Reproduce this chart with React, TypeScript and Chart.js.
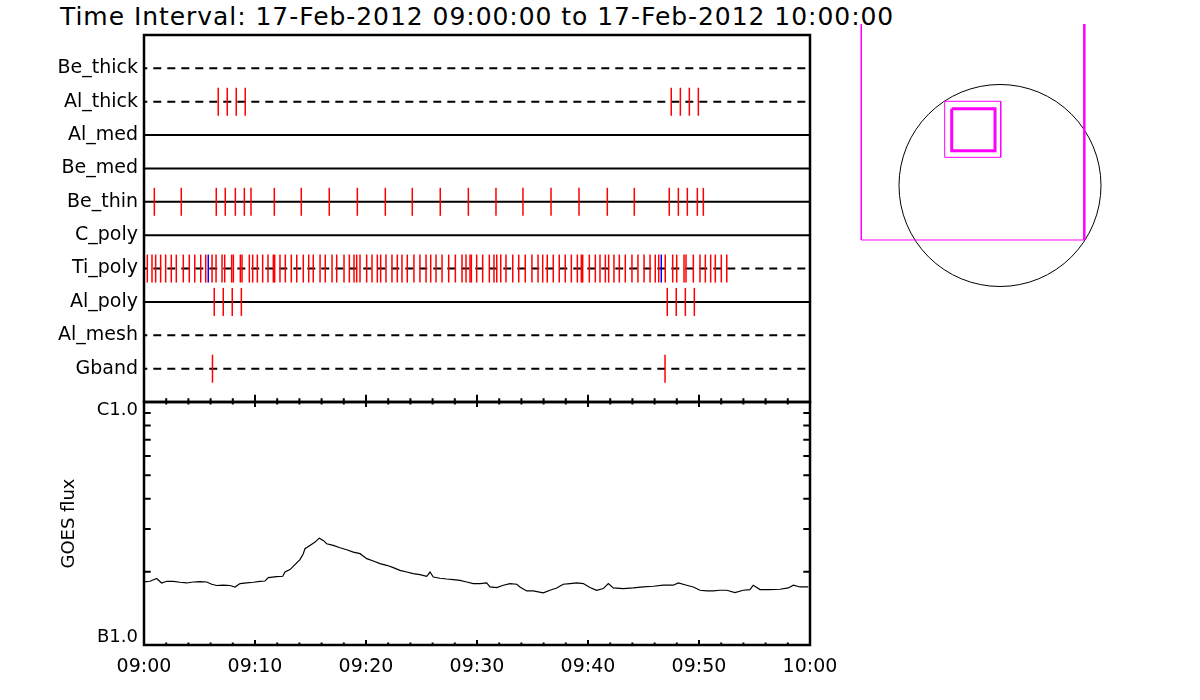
import React, { useEffect, useRef } from 'react';
import { Chart, registerables } from 'chart.js';

Chart.register(...registerables);

const FONT = "'DejaVu Sans', sans-serif";

// ---------- Data ----------
const titleText = 'Time Interval: 17-Feb-2012 09:00:00 to 17-Feb-2012 10:00:00';

const filterNames = ['Be_thick', 'Al_thick', 'Al_med', 'Be_med', 'Be_thin', 'C_poly', 'Ti_poly', 'Al_poly', 'Al_mesh', 'Gband'];
const dashedFilters = ['Be_thick', 'Al_thick', 'Ti_poly', 'Al_mesh', 'Gband'];

// exposure times in minutes after 09:00
const beThickTimes: number[] = [];
const alThickTimes = [6.69, 7.5, 8.31, 9.12, 47.5, 48.32, 49.13, 49.94];
const alMedTimes: number[] = [];
const beMedTimes: number[] = [];
const beThinTimes = [0.93, 3.36, 6.51, 7.32, 8.23, 9.04, 9.64, 11.74, 14.17, 16.69, 19.22, 21.74, 24.17, 26.69, 29.22, 31.71, 34.14, 36.67, 39.19, 41.74, 44.17, 47.32, 48.14, 48.95, 49.85, 50.39];
const cPolyTimes: number[] = [];
const tiPolyTimes = [0.3, 0.72, 1.05, 1.5, 1.95, 2.46, 2.91, 3.54, 4.08, 4.57, 5.11, 5.56, 6.13, 6.49, 7.03, 7.27, 7.9, 8.05, 8.68, 8.83, 9.49, 9.79, 10.21, 10.69, 11.17, 11.65, 11.77, 12.25, 12.73, 13.27, 13.76, 14.35, 14.84, 15.25, 15.86, 16.33, 16.94, 17.36, 18.02, 18.5, 18.92, 19.16, 19.46, 20.06, 20.54, 21.02, 21.32, 21.8, 22.34, 22.82, 23.24, 23.72, 24.32, 24.86, 25.41, 25.83, 26.31, 26.85, 27.45, 28.05, 28.65, 29.01, 29.37, 29.49, 29.97, 30.51, 31.11, 31.53, 31.78, 32.14, 32.61, 33.22, 33.76, 34.35, 34.95, 35.5, 35.92, 36.33, 36.87, 37.41, 37.95, 38.5, 39.04, 39.4, 39.52, 40.12, 40.66, 41.08, 41.56, 41.86, 42.34, 42.82, 43.36, 43.96, 44.5, 45.05, 45.59, 46.06, 46.37, 46.96, 47.63, 47.99, 48.65, 48.83, 49.49, 50.09, 50.57, 51.05, 51.47, 52.01, 52.5];
const tiPolyFlareTimes = [5.79, 46.6];
const alPolyTimes = [6.33, 7.14, 7.95, 8.77, 47.14, 47.95, 48.77, 49.58];
const alMeshTimes: number[] = [];
const gbandTimes = [6.17, 46.94];

const filterTimes = [beThickTimes, alThickTimes, alMedTimes, beMedTimes, beThinTimes, cPolyTimes, tiPolyTimes, alPolyTimes, alMeshTimes, gbandTimes];

// GOES flux, minutes after 09:00, flux in units of 1e-7 W/m^2
const goesMinutes = [0, 0.54, 1.14, 1.59, 2.05, 2.64, 3.24, 3.85, 4.44, 5.05, 5.65, 6.1, 6.55, 7.14, 7.75, 8.2, 8.65, 9.25, 9.85, 10.45, 10.9, 11.2, 11.95, 12.5, 12.7, 13.15, 13.6, 14.05, 14.35, 14.5, 14.95, 15.41, 15.79, 16.15, 16.46, 17.05, 17.66, 18.26, 18.86, 19.46, 20.06, 20.66, 21.26, 21.86, 22.46, 23.06, 23.67, 24.26, 24.86, 25.47, 25.77, 26.06, 26.67, 27.27, 27.86, 28.47, 29.07, 29.67, 30.27, 30.87, 31.17, 31.77, 32.37, 32.97, 33.58, 33.87, 34.48, 35.07, 35.97, 36.58, 37.18, 37.77, 38.38, 38.98, 39.58, 40.18, 40.78, 41.38, 41.83, 42.28, 43.18, 44.08, 44.98, 45.88, 46.78, 47.68, 48.14, 48.89, 49.49, 50.09, 50.69, 51.29, 51.89, 52.5, 53.24, 53.99, 54.59, 54.89, 55.5, 56.4, 57.3, 58.05, 58.5, 59.1, 59.85];
const goesFlux = [1.817, 1.829, 1.877, 1.8, 1.829, 1.829, 1.812, 1.8, 1.817, 1.823, 1.817, 1.778, 1.757, 1.762, 1.757, 1.733, 1.79, 1.8, 1.812, 1.829, 1.834, 1.894, 1.912, 1.918, 1.997, 2.043, 2.141, 2.245, 2.376, 2.491, 2.57, 2.651, 2.753, 2.694, 2.611, 2.57, 2.514, 2.467, 2.412, 2.376, 2.266, 2.216, 2.162, 2.128, 2.082, 2.029, 1.997, 1.967, 1.949, 1.918, 1.997, 1.905, 1.882, 1.869, 1.859, 1.846, 1.817, 1.79, 1.79, 1.8, 1.733, 1.724, 1.762, 1.79, 1.778, 1.733, 1.669, 1.669, 1.638, 1.68, 1.717, 1.778, 1.79, 1.8, 1.79, 1.724, 1.68, 1.707, 1.79, 1.717, 1.707, 1.717, 1.733, 1.745, 1.762, 1.762, 1.8, 1.762, 1.733, 1.68, 1.669, 1.669, 1.68, 1.68, 1.644, 1.68, 1.691, 1.762, 1.691, 1.691, 1.696, 1.717, 1.762, 1.733, 1.733];

const timeTickLabels = ['09:00', '09:10', '09:20', '09:30', '09:40', '09:50', '10:00'];
const goesClassLabels = ['B1.0', 'C1.0'];

// Field of view panel, arcsec from disk centre
const sunRadiusArcsec = 975;
const frameLeftBottomX = [-1339, -1339, 814];
const frameLeftBottomY = [1559, -526, -526];
const frameRightX = [814, 814];
const frameRightY = [-526, 1559];
const outerBoxX = [-534, 7, 7, -534, -534];
const outerBoxY = [813, 813, 272, 272, 813];
const innerBoxX = [-466, -48, -48, -466, -466];
const innerBoxY = [741, 741, 336, 336, 741];

const toXY = (xs: number[], ys: number[]) => xs.map((x, i) => ({ x, y: ys[i] }));

function framePlugin(id: string, major: number, minor: number, topTicks: boolean, yMinorValues: number[], yTickLen: number) {
  return {
    id,
    afterDatasetsDraw(chart: any) {
      const { ctx, chartArea: a, scales } = chart;
      const xs = scales.x;
      const ys = scales.y;
      ctx.save();
      ctx.strokeStyle = '#000';
      ctx.lineWidth = 2;
      ctx.beginPath();
      for (let m = 0; m <= 60; m += 2) {
        const px = xs.getPixelForValue(m);
        const len = m % 10 === 0 ? major : minor;
        ctx.moveTo(px, a.bottom);
        ctx.lineTo(px, a.bottom - len);
        if (topTicks) {
          ctx.moveTo(px, a.top);
          ctx.lineTo(px, a.top + len);
        }
      }
      for (const v of yMinorValues) {
        const py = ys.getPixelForValue(v);
        ctx.moveTo(a.left, py);
        ctx.lineTo(a.left + yTickLen, py);
        ctx.moveTo(a.right, py);
        ctx.lineTo(a.right - yTickLen, py);
      }
      ctx.stroke();
      ctx.lineWidth = 2.5;
      ctx.strokeRect(a.left, a.top, a.right - a.left, a.bottom - a.top);
      ctx.restore();
    },
  };
}

export default function App() {
  const aRef = useRef<HTMLCanvasElement>(null);
  const bRef = useRef<HTMLCanvasElement>(null);
  const cRef = useRef<HTMLCanvasElement>(null);

  useEffect(() => {
    const charts: Chart[] = [];

    // ---------- Upper panel: filter exposures ----------
    const redTicks: { x: number; y: number }[] = [];
    filterTimes.forEach((times, i) => times.forEach((t) => redTicks.push({ x: t, y: i + 1 })));
    const tiRow = filterNames.indexOf('Ti_poly') + 1;

    const rowLines = filterNames.map((name, i) => ({
      type: 'scatter' as const,
      data: [
        { x: 0, y: i + 1 },
        { x: 60, y: i + 1 },
      ],
      showLine: true,
      borderColor: '#000',
      borderWidth: 2,
      borderDash: dashedFilters.includes(name) ? [8, 6] : [],
      borderDashOffset: 4.7,
      pointRadius: 0,
    }));

    charts.push(
      new Chart(aRef.current!, {
        type: 'scatter',
        data: {
          datasets: [
            {
              data: tiPolyFlareTimes.map((t) => ({ x: t, y: tiRow })),
              pointStyle: 'line',
              pointRotation: 90,
              pointRadius: 14,
              pointBorderColor: '#0000ff',
              pointBorderWidth: 1.5,
              showLine: false,
            } as any,
            {
              data: redTicks,
              pointStyle: 'line',
              pointRotation: 90,
              pointRadius: 14,
              pointBorderColor: '#ff0000',
              pointBorderWidth: 1.5,
              showLine: false,
            } as any,
            ...rowLines,
          ],
        },
        options: {
          responsive: false,
          animation: false,
          events: [],
          layout: { autoPadding: false, padding: { left: 0, right: 30, top: 35, bottom: 8 } },
          plugins: {
            legend: { display: false },
            tooltip: { enabled: false },
          },
          scales: {
            x: {
              type: 'linear',
              min: 0,
              max: 60,
              display: false,
              ticks: { display: false },
              afterFit: (s: any) => {
                s.height = 0;
                s.paddingLeft = 0;
                s.paddingRight = 0;
              },
            },
            y: {
              type: 'linear',
              min: 0,
              max: 11,
              reverse: true,
              afterFit: (s: any) => {
                s.width = 144;
                s.paddingTop = 0;
                s.paddingBottom = 0;
              },
              grid: { display: false, drawTicks: false },
              border: { display: false },
              ticks: {
                stepSize: 1,
                autoSkip: false,
                padding: 6,
                color: '#000',
                font: { family: FONT, size: 19 },
                callback: (v: any) => filterNames[Number(v) - 1] ?? '',
              },
            },
          },
        } as any,
        plugins: [framePlugin('frameA', 7.3, 3.7, false, [], 0)],
      })
    );

    // ---------- Lower panel: GOES flux ----------
    charts.push(
      new Chart(bRef.current!, {
        type: 'line',
        data: {
          datasets: [
            {
              data: toXY(goesMinutes, goesFlux),
              borderColor: '#000',
              borderWidth: 1.2,
              pointRadius: 0,
              tension: 0,
            },
          ],
        },
        options: {
          responsive: false,
          animation: false,
          events: [],
          layout: { autoPadding: false, padding: { left: 0, right: 30, top: 12, bottom: 0 } },
          plugins: { legend: { display: false }, tooltip: { enabled: false } },
          scales: {
            x: {
              type: 'linear',
              min: 0,
              max: 60,
              afterFit: (s: any) => {
                s.height = 55;
                s.paddingLeft = 0;
                s.paddingRight = 0;
              },
              grid: { display: false, drawTicks: false },
              border: { display: false },
              ticks: {
                stepSize: 10,
                autoSkip: false,
                maxRotation: 0,
                padding: 11,
                color: '#000',
                font: { family: FONT, size: 19 },
                callback: (v: any) => timeTickLabels[Math.round(Number(v) / 10)] ?? '',
              },
            },
            y: {
              type: 'logarithmic',
              min: 1,
              max: 10,
              afterFit: (s: any) => {
                s.width = 144;
                s.paddingTop = 0;
                s.paddingBottom = 0;
              },
              grid: { display: false, drawTicks: false },
              border: { display: false },
              title: {
                display: true,
                text: 'GOES flux',
                color: '#000',
                font: { family: FONT, size: 18 },
                padding: { top: 59, bottom: 0 },
              },
              ticks: {
                autoSkip: false,
                padding: 6,
                color: '#000',
                font: { family: FONT, size: 18, lineHeight: '16px' },
                callback: (v: any) => {
                  const n = Number(v);
                  if (Math.abs(n - 10) < 1e-6) return ['', goesClassLabels[1]];
                  if (Math.abs(n - 1) < 1e-6) return [goesClassLabels[0], ''];
                  return '';
                },
              },
            },
          },
        } as any,
        plugins: [framePlugin('frameB', 5, 2.5, true, [2, 3, 4, 5, 6, 7, 8, 9], 6.7)],
      })
    );

    // ---------- Field of view ----------
    const magenta = '#ff00ff';
    const lineDs = (data: any[], width: number, color: string) => ({
      data,
      showLine: true,
      borderColor: color,
      borderWidth: width,
      pointRadius: 0,
      clip: false,
    });
    charts.push(
      new Chart(cRef.current!, {
        type: 'scatter',
        data: {
          datasets: [
            lineDs(toXY(innerBoxX, innerBoxY), 3, magenta),
            lineDs(toXY(outerBoxX, outerBoxY), 1, magenta),
            lineDs(toXY(frameRightX, frameRightY), 2.5, magenta),
            lineDs(toXY(frameLeftBottomX, frameLeftBottomY), 1, magenta),
            {
              data: [{ x: 0, y: 0 }],
              pointStyle: 'circle',
              pointRadius: (ctx: any) => {
                const s = ctx.chart.scales.x;
                return Math.abs(s.getPixelForValue(sunRadiusArcsec) - s.getPixelForValue(0));
              },
              pointBackgroundColor: 'rgba(0,0,0,0)',
              pointBorderColor: '#000',
              pointBorderWidth: 1,
              clip: false,
            } as any,
          ] as any,
        },
        options: {
          responsive: false,
          animation: false,
          events: [],
          layout: { autoPadding: false, padding: 0 },
          plugins: { legend: { display: false }, tooltip: { enabled: false } },
          scales: {
            x: { type: 'linear', min: -1544.5, max: 1158.4, display: false },
            y: { type: 'linear', min: -1105.3, max: 1597.6, display: false },
          },
        } as any,
      })
    );

    return () => charts.forEach((c) => c.destroy());
  }, []);

  return (
    <div style={{ position: 'fixed', left: 0, top: 0, width: 1200, height: 700, background: '#fff', overflow: 'hidden' }}>
      <div
        style={{
          position: 'absolute',
          left: 60,
          top: 4,
          fontFamily: FONT,
          fontSize: 25,
          lineHeight: '25px',
          letterSpacing: '0.95px',
          color: '#000',
          whiteSpace: 'nowrap',
        }}
      >
        {titleText}
      </div>
      <canvas ref={aRef} width={840} height={410} style={{ position: 'absolute', left: 0, top: 0 }} />
      <canvas ref={bRef} width={840} height={310} style={{ position: 'absolute', left: 0, top: 390 }} />
      <canvas ref={cRef} width={280} height={280} style={{ position: 'absolute', left: 840, top: 20 }} />
    </div>
  );
}
